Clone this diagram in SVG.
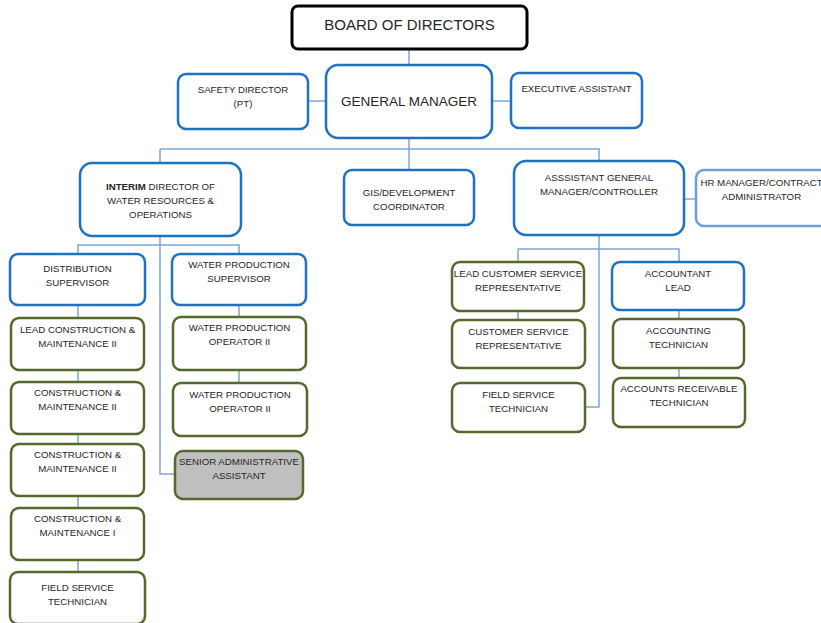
<svg xmlns="http://www.w3.org/2000/svg" width="821" height="623" viewBox="0 0 821 623">
  <style>
    .bg { fill: #ffffff; }
    .box { fill: #ffffff; stroke-width: 2.5; }
    .blue { stroke: #1f72c2; }
    .lblue { stroke: #6a9fdc; }
    .green { stroke: #56692c; }
    .black { stroke: #000000; stroke-width: 3; }
    .grey { fill: #bfbfbf; }
    .lbl { font-family: "Liberation Sans", Arial, sans-serif; font-size: 9.7px; fill: #262626; text-anchor: middle; }
    .big { font-size: 15px; }
    .mid { font-size: 13.5px; }
    .b { font-weight: bold; }
    #connectors path { fill: none; stroke: #7fa6d9; stroke-width: 1.5; }
  </style>
  <rect class="bg" x="0" y="0" width="821" height="623"/>

  <g id="connectors">
    <path d="M409,49 V65"/>
    <path d="M308,101 H326"/>
    <path d="M492,101 H511"/>
    <path d="M409,138 V149"/>
    <path d="M160,149 H600"/>
    <path d="M160,149 V163"/>
    <path d="M409,149 V170"/>
    <path d="M599,149 V161"/>
    <path d="M684,199 H696"/>
    <!-- water resources branch -->
    <path d="M160,236 V474 H175"/>
    <path d="M78,254 V245 H239 V254"/>
    <path d="M78,305 V318"/>
    <path d="M78,370 V382"/>
    <path d="M78,434 V444"/>
    <path d="M78,496 V508"/>
    <path d="M78,560 V572"/>
    <path d="M239,305 V317"/>
    <path d="M239,370 V383"/>
    <!-- finance / customer service branch -->
    <path d="M599,235 V407 H585"/>
    <path d="M518,262 V249 H679 V262"/>
    <path d="M518,311 V320"/>
    <path d="M679,310 V319"/>
    <path d="M679,368 V378"/>
  </g>

  <g id="board">
    <rect class="box black" x="292" y="6" width="235" height="43" rx="6"/>
    <text class="lbl big" x="409.5" y="30">BOARD OF DIRECTORS</text>
  </g>
  <g id="general-manager">
    <rect class="box blue" x="326" y="65" width="166" height="73" rx="12"/>
    <text class="lbl mid" x="409" y="106">GENERAL MANAGER</text>
  </g>
  <g id="safety-director">
    <rect class="box blue" x="178" y="74" width="130" height="55" rx="8"/>
    <text class="lbl" x="243" y="92.5">SAFETY DIRECTOR</text>
    <text class="lbl" x="243" y="106.5">(PT)</text>
  </g>
  <g id="executive-assistant">
    <rect class="box blue" x="511" y="73" width="131" height="55" rx="8"/>
    <text class="lbl" x="576.5" y="91.5">EXECUTIVE ASSISTANT</text>
  </g>

  <g id="director-water">
    <rect class="box blue" x="80" y="163" width="161" height="73" rx="12"/>
    <text class="lbl" x="160.5" y="190"><tspan class="b">INTERIM</tspan> DIRECTOR OF</text>
    <text class="lbl" x="160.5" y="204">WATER RESOURCES &amp;</text>
    <text class="lbl" x="160.5" y="218">OPERATIONS</text>
  </g>
  <g id="gis-coordinator">
    <rect class="box blue" x="344" y="170" width="130" height="55" rx="8"/>
    <text class="lbl" x="409" y="195.5">GIS/DEVELOPMENT</text>
    <text class="lbl" x="409" y="209.5">COORDINATOR</text>
  </g>
  <g id="assistant-gm">
    <rect class="box blue" x="514" y="161" width="170" height="74" rx="12"/>
    <text class="lbl" x="599" y="180.5">ASSSISTANT GENERAL</text>
    <text class="lbl" x="599" y="194.5">MANAGER/CONTROLLER</text>
  </g>
  <g id="hr-manager">
    <rect class="box lblue" x="696" y="170" width="132" height="56" rx="8"/>
    <text class="lbl" x="761.5" y="185.5">HR MANAGER/CONTRACT</text>
    <text class="lbl" x="761.5" y="199.5">ADMINISTRATOR</text>
  </g>

  <g id="distribution-supervisor">
    <rect class="box blue" x="10" y="254" width="135" height="51" rx="8"/>
    <text class="lbl" x="77.5" y="271.5">DISTRIBUTION</text>
    <text class="lbl" x="77.5" y="285.5">SUPERVISOR</text>
  </g>
  <g id="lead-construction">
    <rect class="box green" x="11" y="318" width="133" height="52" rx="8"/>
    <text class="lbl" x="77.5" y="332.5">LEAD CONSTRUCTION &amp;</text>
    <text class="lbl" x="77.5" y="346.5">MAINTENANCE II</text>
  </g>
  <g id="construction-1">
    <rect class="box green" x="11" y="382" width="133" height="52" rx="8"/>
    <text class="lbl" x="77.5" y="396">CONSTRUCTION &amp;</text>
    <text class="lbl" x="77.5" y="410">MAINTENANCE II</text>
  </g>
  <g id="construction-2">
    <rect class="box green" x="11" y="444" width="133" height="52" rx="8"/>
    <text class="lbl" x="77.5" y="457.5">CONSTRUCTION &amp;</text>
    <text class="lbl" x="77.5" y="471.5">MAINTENANCE II</text>
  </g>
  <g id="construction-3">
    <rect class="box green" x="11" y="508" width="133" height="52" rx="8"/>
    <text class="lbl" x="77.5" y="521.5">CONSTRUCTION &amp;</text>
    <text class="lbl" x="77.5" y="535.5">MAINTENANCE I</text>
  </g>
  <g id="field-service-left">
    <rect class="box green" x="10" y="572" width="135" height="52" rx="8"/>
    <text class="lbl" x="77.5" y="590.5">FIELD SERVICE</text>
    <text class="lbl" x="77.5" y="604.5">TECHNICIAN</text>
  </g>

  <g id="water-production-supervisor">
    <rect class="box blue" x="172" y="254" width="134" height="51" rx="8"/>
    <text class="lbl" x="239" y="267.5">WATER PRODUCTION</text>
    <text class="lbl" x="239" y="281.5">SUPERVISOR</text>
  </g>
  <g id="operator-1">
    <rect class="box green" x="173" y="317" width="133" height="53" rx="8"/>
    <text class="lbl" x="239.5" y="331">WATER PRODUCTION</text>
    <text class="lbl" x="239.5" y="345">OPERATOR II</text>
  </g>
  <g id="operator-2">
    <rect class="box green" x="173" y="383" width="134" height="53" rx="8"/>
    <text class="lbl" x="240" y="397.5">WATER PRODUCTION</text>
    <text class="lbl" x="240" y="411.5">OPERATOR II</text>
  </g>
  <g id="senior-admin">
    <rect class="box green grey" x="175" y="451" width="128" height="48" rx="8"/>
    <text class="lbl" x="239" y="464.5">SENIOR ADMINISTRATIVE</text>
    <text class="lbl" x="239" y="478.5">ASSISTANT</text>
  </g>

  <g id="lead-csr">
    <rect class="box green" x="452" y="262" width="132" height="49" rx="8"/>
    <text class="lbl" x="518" y="276.5">LEAD CUSTOMER SERVICE</text>
    <text class="lbl" x="518" y="290.5">REPRESENTATIVE</text>
  </g>
  <g id="csr">
    <rect class="box green" x="452" y="320" width="133" height="48" rx="8"/>
    <text class="lbl" x="518.5" y="334.5">CUSTOMER SERVICE</text>
    <text class="lbl" x="518.5" y="348.5">REPRESENTATIVE</text>
  </g>
  <g id="field-service-right">
    <rect class="box green" x="452" y="383" width="133" height="49" rx="8"/>
    <text class="lbl" x="518.5" y="397.5">FIELD SERVICE</text>
    <text class="lbl" x="518.5" y="411.5">TECHNICIAN</text>
  </g>
  <g id="accountant-lead">
    <rect class="box blue" x="612" y="262" width="132" height="48" rx="8"/>
    <text class="lbl" x="678" y="276.5">ACCOUNTANT</text>
    <text class="lbl" x="678" y="290.5">LEAD</text>
  </g>
  <g id="accounting-technician">
    <rect class="box green" x="613" y="319" width="131" height="49" rx="8"/>
    <text class="lbl" x="678.5" y="333.5">ACCOUNTING</text>
    <text class="lbl" x="678.5" y="347.5">TECHNICIAN</text>
  </g>
  <g id="ar-technician">
    <rect class="box green" x="613" y="378" width="132" height="49" rx="8"/>
    <text class="lbl" x="679" y="391.5">ACCOUNTS RECEIVABLE</text>
    <text class="lbl" x="679" y="405.5">TECHNICIAN</text>
  </g>
</svg>
